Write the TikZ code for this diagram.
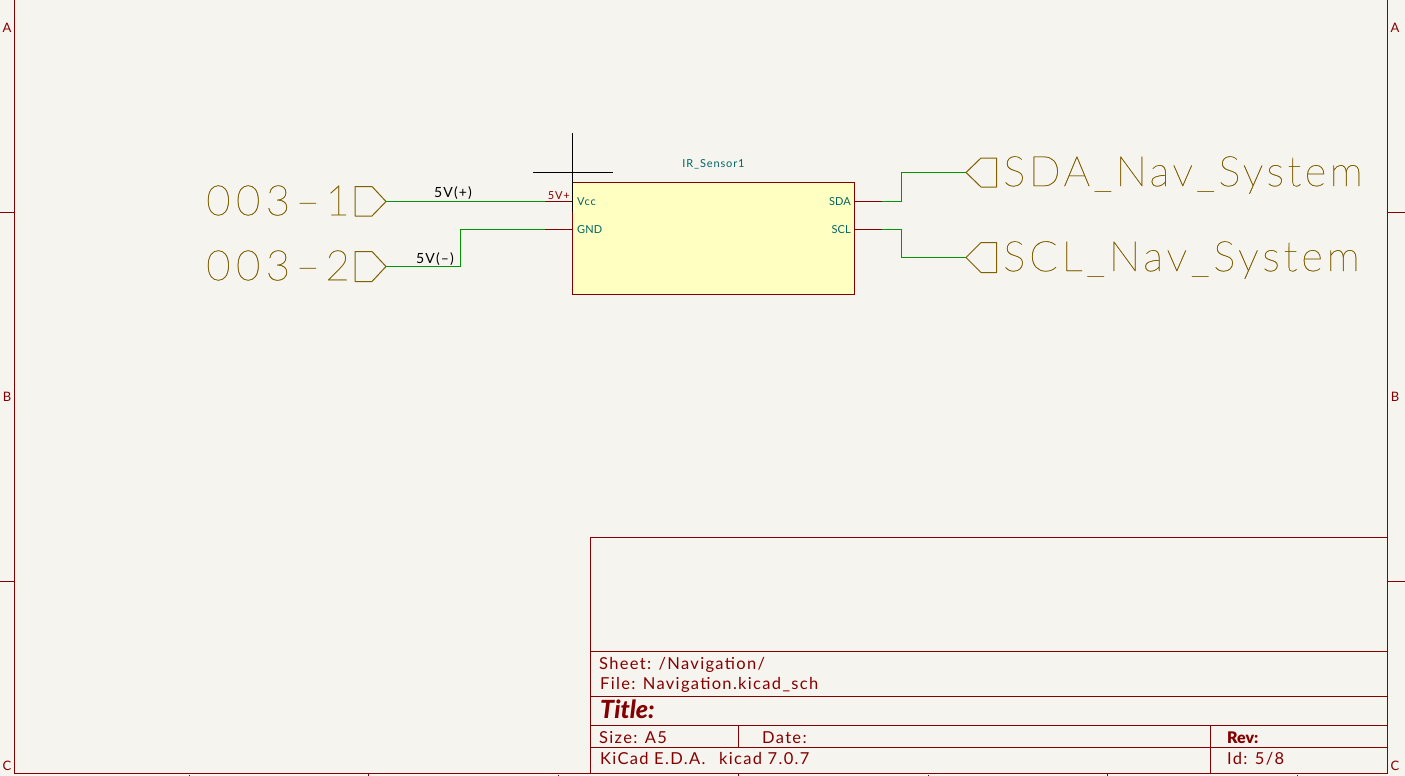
\documentclass[tikz,border=0pt]{standalone}
\usepackage{fontspec}
\setmainfont{Lato}
\newfontfamily\hugefont[LetterSpace=8,FakeBold=0.6]{Lato Thin}
\newfontfamily\widefont[LetterSpace=9,FakeBold=0.6]{Lato Thin}
\newfontfamily\digitfont[LetterSpace=13,FakeBold=0.6]{Lato Thin}
\newfontfamily\smallfont[LetterSpace=8]{Lato}
\newfontfamily\tightfont[LetterSpace=1]{Lato}
\newfontfamily\boldfont{Lato}[BoldFont=* Black]
\definecolor{paper}{HTML}{F5F4EF}
\definecolor{kired}{HTML}{840000}
\definecolor{kiwire}{HTML}{009600}
\definecolor{kibrown}{HTML}{7F5F00}
\definecolor{kiteal}{HTML}{006464}
\definecolor{kifill}{HTML}{FFFFC2}
\tikzstyle{frameline} = [draw=kired, line width=1pt]
\tikzstyle{wire} = [draw=kiwire, line width=1pt]
\tikzstyle{pin} = [draw=kired, line width=1pt]
\tikzstyle{flag} = [draw=kibrown, line width=1pt, line join=round]
\tikzstyle{sensorbox} = [draw=kired, fill=kifill, line width=1pt, rectangle, minimum width=282pt, minimum height=112pt, inner sep=0pt]
\tikzstyle{hugelabel} = [text=kibrown, anchor=west, inner sep=0pt, font=\hugefont\fontsize{42}{42}\selectfont]
\tikzstyle{digitlabel} = [text=kibrown, anchor=west, inner sep=0pt, font=\digitfont\fontsize{42}{42}\selectfont]
\tikzstyle{pinlabel} = [text=kiteal, inner sep=0pt, font=\smallfont\fontsize{11}{11}\selectfont]
\tikzstyle{capslabel} = [text=kiteal, inner sep=0pt, font=\tightfont\fontsize{11}{11}\selectfont]
\tikzstyle{netlabel} = [text=black, inner sep=0pt, font=\smallfont\fontsize{14}{14}\selectfont]
\tikzstyle{titletext} = [text=kired, anchor=west, inner sep=0pt, font=\smallfont\fontsize{16.5}{16.5}\selectfont]
\tikzstyle{titlebold} = [text=kired, anchor=west, inner sep=0pt, font=\boldfont\bfseries\fontsize{16}{16}\selectfont]
\tikzstyle{zoneletter} = [text=kired, inner sep=0pt, font=\smallfont\fontsize{13}{13}\selectfont]
\begin{document}
\begin{tikzpicture}[x=1pt, y=-1pt]
	\useasboundingbox (0,0) rectangle (1405,776);
	\fill[paper] (0,0) rectangle (1405,776);
	% sheet border
	\draw[frameline] (14.5,0) -- (14.5,773.5) -- (1387.5,773.5) -- (1387.5,0);
	\foreach \y in {212.5,581.5} {
		\draw[frameline] (0,\y) -- (14.5,\y);
		\draw[frameline] (1387.5,\y) -- (1405,\y);
	}
	\foreach \x in {368.5,738.5,1107.5} {
		\draw[frameline] (\x,773.5) -- (\x,776);
	}
	\foreach \x in {189.5,558.5,928.5,1297.5} {
		\draw[frameline] (\x,775) -- (\x,776);
	}
	\foreach \z/\y in {A/28,B/397,C/766} {
		\node[zoneletter] (left\z) at (7,\y) {\z};
		\node[zoneletter] (right\z) at (1395,\y) {\z};
	}
	% title block
	\draw[frameline] (590.5,773.5) -- (590.5,537.5) -- (1387.5,537.5);
	\foreach \y in {651.5,696.5,725.5,747.5} {
		\draw[frameline] (590.5,\y) -- (1387.5,\y);
	}
	\draw[frameline] (738.5,725.5) -- (738.5,747.5);
	\draw[frameline] (1210.5,725.5) -- (1210.5,773.5);
	\node[titletext] (sheet) at (599,665) {Sheet: /Navigation/};
	\node[titletext] (file) at (600,685) {File: Navigation.kicad\_sch};
	\node[titlebold, font=\boldfont\bfseries\itshape\fontsize{25}{25}\selectfont] (title) at (600,709.5) {Title:};
	\node[titletext] (size) at (599,738) {Size: A5};
	\node[titletext] (date) at (762,738) {Date:};
	\node[titletext] (tool) at (600,758.5) {KiCad E.D.A.\ \ \,kicad 7.0.7};
	\node[titlebold] (rev) at (1227,738) {Rev:};
	\node[titletext] (id) at (1227,758.5) {Id: 5/8};
	% sensor block
	\node[sensorbox] (sensor) at (713.5,238.5) {};
	\node[pinlabel] (sensorname) at (713.5,164) {IR\_Sensor1};
	\node[pinlabel, anchor=west] (vcc) at (577,202) {Vcc};
	\node[capslabel, anchor=west] (gnd) at (577,230) {GND};
	\node[capslabel, anchor=east] (sda) at (851,202) {SDA};
	\node[capslabel, anchor=east] (scl) at (851,230) {SCL};
	\node[pinlabel, text=kired, anchor=east] (vplus) at (570,196) {5V+};
	% pin ends
	\coordinate (vccpin) at (572.5,201.5);
	\coordinate (vccend) at (545,201.5);
	\coordinate (gndpin) at (572.5,229.5);
	\coordinate (gndend) at (545,229.5);
	\coordinate (sdapin) at (854.5,201.5);
	\coordinate (sdaend) at (882,201.5);
	\coordinate (sclpin) at (854.5,229.5);
	\coordinate (sclend) at (882,229.5);
	\draw[pin] (vccpin) -- (vccend);
	\draw[pin] (gndpin) -- (gndend);
	\draw[pin] (sdapin) -- (sdaend);
	\draw[pin] (sclpin) -- (sclend);
	% hierarchical labels
	\coordinate (plustip) at (386,201.5);
	\coordinate (minustip) at (386,266.5);
	\coordinate (sdatip) at (966,172.5);
	\coordinate (scltip) at (966,257.5);
	\draw[flag] (plustip) -- ++(-14,-15) -- ++(-17,0) -- ++(0,29.5) -- ++(17,0) -- cycle;
	\draw[flag] (minustip) -- ++(-14,-15) -- ++(-17,0) -- ++(0,30) -- ++(17,0) -- cycle;
	\draw[flag] (sdatip) -- ++(15,-14.5) -- ++(15.5,0) -- ++(0,29) -- ++(-15.5,0) -- cycle;
	\draw[flag] (scltip) -- ++(15,-15) -- ++(15.5,0) -- ++(0,30) -- ++(-15.5,0) -- cycle;
	\node[digitlabel] (plusname) at (206,200.5) {003–1};
	\node[digitlabel] (minusname) at (206,265.5) {003–2};
	\node[hugelabel] (sdaname) at (1003,175) {SDA\_Nav\_System};
	\node[hugelabel, font=\widefont\fontsize{42}{42}\selectfont] (sclname) at (1003,260) {SCL\_Nav\_System};
	% wires
	\draw[wire] (plustip) -- (vccend);
	\draw[wire] (minustip) -| (460.5,229.5) -- (gndend);
	\draw[wire] (sdaend) -| (901.5,172.5) -- (sdatip);
	\draw[wire] (sclend) -| (901.5,257.5) -- (scltip);
	\node[netlabel] (plusnet) at (453,193.5) {5V(+)};
	\node[netlabel] (minusnet) at (435,259.5) {5V(–)};
	% marker
	\coordinate (crosstop) at (572.5,133);
	\coordinate (crossbot) at (572.5,212);
	\coordinate (crossleft) at (533,172.5);
	\coordinate (crossright) at (613,172.5);
	\draw[black, line width=1pt] (crosstop) -- (crossbot);
	\draw[black, line width=1pt] (crossleft) -- (crossright);
\end{tikzpicture}
\end{document}
